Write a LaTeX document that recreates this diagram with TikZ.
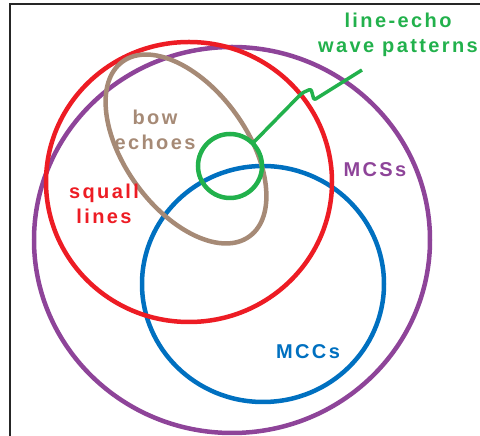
\documentclass[tikz,border=0pt]{standalone}
\usepackage{fontspec}
\setmainfont{Liberation Sans}
\usepackage{xcolor}
\usetikzlibrary{calc}

\definecolor{mcspurple}{RGB}{142,68,153}
\definecolor{squallred}{RGB}{237,28,36}
\definecolor{mccblue}{RGB}{0,112,192}
\definecolor{bowbrown}{RGB}{166,138,118}
\definecolor{lewpgreen}{RGB}{34,177,76}

\begin{document}
\begin{tikzpicture}[
    x=1pt, y=1pt,
    every node/.style={font=\fontsize{20}{25}\selectfont\bfseries\addfontfeature{LetterSpace=12}, align=center, inner sep=0pt},
    ring/.style={line width=4.5pt},
    frameline/.style={draw=black!85, line width=1.5pt},
]
\useasboundingbox (0,0) rectangle (480,436);

% frame
\draw[frameline] (10,0) -- (10,432) -- (480,432);

% sets
\draw[ring, draw=mcspurple] (232,196) ellipse [x radius=198, y radius=193];
\draw[ring, draw=mccblue] (263,152) ellipse [x radius=121, y radius=118];
\draw[ring, draw=squallred] (189,254) ellipse [x radius=143, y radius=140];
\draw[ring, draw=bowbrown, rotate around={-54:(186,287)}] (186,287) ellipse [x radius=108, y radius=61];
\draw[ring, draw=lewpgreen] (230,270) circle [radius=32];

% labels
\node[text=bowbrown] (bow) at (155,306) {bow\\echoes};
\node[text=squallred] (squall) at (104,232) {squall\\lines};
\node[text=mcspurple] (mcs) at (375,266) {MCSs};
\node[text=mccblue] (mcc) at (308,84) {MCCs};
\node[text=lewpgreen] (lewp) at (398,401) {line-echo\\wave patterns};

% leader
\coordinate (lewpring) at ($(230,270)+(45:32)$);
\coordinate (lewptip) at (362,366);
\draw[line width=3.5pt, draw=lewpgreen, line join=round, rounded corners=2pt]
    (lewpring) -- (302,343) -- (311,347) -- (314,336) -- (lewptip);

\end{tikzpicture}
\end{document}
